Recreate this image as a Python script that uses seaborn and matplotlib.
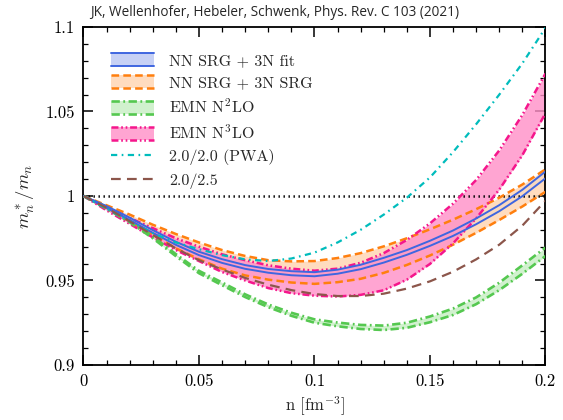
import numpy as np
import pandas as pd
import matplotlib
matplotlib.use("Agg")
import matplotlib.pyplot as plt
import seaborn as sns
from matplotlib.patches import Rectangle, Patch
from matplotlib.lines import Line2D
from matplotlib.legend_handler import HandlerBase
from matplotlib.ticker import MultipleLocator, FixedLocator

# ---------------- data ----------------
n = [0.0, 0.01, 0.02, 0.03, 0.04, 0.05, 0.06, 0.07, 0.08, 0.09, 0.10,
     0.11, 0.12, 0.13, 0.14, 0.15, 0.16, 0.17, 0.18, 0.19, 0.20]

fit_hi = [1.0, 0.994, 0.9872, 0.9798, 0.9729, 0.967, 0.9626, 0.9591, 0.9568, 0.9555, 0.9549,
          0.9564, 0.9593, 0.9634, 0.968, 0.9735, 0.9796, 0.9867, 0.9946, 1.0037, 1.0145]
fit_lo = [1.0, 0.993, 0.9858, 0.9782, 0.9711, 0.965, 0.9604, 0.9569, 0.9546, 0.9531, 0.9525,
          0.954, 0.9567, 0.9606, 0.9652, 0.9705, 0.9764, 0.9833, 0.991, 0.9999, 1.0105]

srg_hi = [1.0, 0.9945, 0.989, 0.983, 0.9775, 0.9725, 0.968, 0.9645, 0.962, 0.9613, 0.9615,
          0.9633, 0.9662, 0.9702, 0.975, 0.9803, 0.986, 0.9922, 0.999, 1.0068, 1.0158]
srg_lo = [1.0, 0.993, 0.985, 0.977, 0.969, 0.9625, 0.957, 0.953, 0.9505, 0.9488, 0.948,
          0.949, 0.951, 0.9545, 0.9592, 0.9648, 0.9712, 0.9782, 0.9858, 0.9938, 1.0025]

n2lo_hi = [1.0, 0.9935, 0.9855, 0.976, 0.9656, 0.9557, 0.9488, 0.9418, 0.9358, 0.9309, 0.927,
           0.9251, 0.9237, 0.9233, 0.925, 0.9287, 0.9334, 0.94, 0.9487, 0.959, 0.9695]
n2lo_lo = [1.0, 0.9925, 0.9845, 0.975, 0.9644, 0.9543, 0.9472, 0.9402, 0.9342, 0.9291, 0.925,
           0.9229, 0.9213, 0.9207, 0.922, 0.9253, 0.9296, 0.936, 0.9443, 0.954, 0.9645]

n3lo_hi = [1.0, 0.9935, 0.987, 0.981, 0.975, 0.970, 0.9655, 0.962, 0.959, 0.957, 0.9558,
           0.957, 0.9605, 0.9662, 0.974, 0.9838, 0.9955, 1.0095, 1.027, 1.048, 1.0725]
n3lo_lo = [1.0, 0.9915, 0.9835, 0.9755, 0.968, 0.9615, 0.955, 0.950, 0.9455, 0.9425, 0.941,
           0.9405, 0.9415, 0.9442, 0.9505, 0.9598, 0.972, 0.9868, 1.0038, 1.0242, 1.049]

pwa_20_20 = [1.0, 0.9925, 0.985, 0.978, 0.9725, 0.9685, 0.965, 0.9625, 0.9615, 0.963, 0.9665,
             0.9725, 0.980, 0.989, 0.999, 1.011, 1.026, 1.0425, 1.060, 1.0785, 1.0995]
ll_20_25 = [1.0, 0.993, 0.985, 0.977, 0.969, 0.962, 0.9565, 0.9515, 0.9475, 0.9443, 0.942,
            0.9408, 0.9408, 0.9422, 0.9452, 0.9495, 0.9552, 0.9625, 0.9712, 0.9825, 0.9972]

labels = ["NN SRG + 3N fit", "NN SRG + 3N SRG", r"EMN N$^2$LO", r"EMN N$^3$LO",
          "2.0/2.0 (PWA)", "2.0/2.5"]
xticks = [0, 0.05, 0.1, 0.15, 0.2]
xticklabels = ["0", "0.05", "0.1", "0.15", "0.2"]
yticks = [0.9, 0.95, 1.0, 1.05, 1.1]
yticklabels = ["0.9", "0.95", "1", "1.05", "1.1"]
title = "JK, Wellenhofer, Hebeler, Schwenk, Phys. Rev. C 103 (2021)"

# ---------------- style ----------------
sns.set_style("ticks")
plt.rcParams.update({
    "font.family": "serif",
    "font.serif": ["cmr10"],
    "mathtext.fontset": "cm",
    "axes.unicode_minus": False,
    "axes.formatter.use_mathtext": True,
    "lines.scale_dashes": False,
})

C_BLUE = "#3f66e0"
C_ORANGE = "#ff7f0e"
C_GREEN = "#55c850"
C_PINK = "#f5168c"
C_CYAN = "#00bcbc"
C_BROWN = "#8c564b"

F_BLUE = (0.78, 0.82, 0.96)
F_ORANGE = (1.0, 0.85, 0.72)
F_GREEN = (0.80, 0.94, 0.79)
F_PINK = (1.0, 0.56, 0.78)

bands = [
    (fit_lo, fit_hi, C_BLUE, F_BLUE, 1.0, "-", 1.4),
    (srg_lo, srg_hi, C_ORANGE, F_ORANGE, 0.9, (0, (5.5, 3)), 1.8),
    (n2lo_lo, n2lo_hi, C_GREEN, F_GREEN, 0.9, (0, (6, 2.5, 1.3, 2.5)), 1.9),
    (n3lo_lo, n3lo_hi, C_PINK, F_PINK, 0.8, (0, (5, 2, 1.2, 2, 1.2, 2)), 1.8),
]

fig = plt.figure(figsize=(5.63, 4.2), dpi=100)
ax = fig.add_axes([0.1483, 0.131, 0.8206, 0.8047])

# fills first (orange, pink, green, blue)
for idx in [1, 3, 2, 0]:
    lo, hi, c, f, a, ls, lw = bands[idx]
    ax.fill_between(n, lo, hi, color=f, alpha=a, lw=0, zorder=1 + idx * 0.1)

# band edges
order = [1, 3, 2, 0]
for k, idx in enumerate(order):
    lo, hi, c, f, a, ls, lw = bands[idx]
    for arr in (lo, hi):
        df = pd.DataFrame({"n": n, "m": arr})
        sns.lineplot(data=df, x="n", y="m", ax=ax, color=c, linewidth=lw,
                     linestyle=ls, zorder=3 + k * 0.1, legend=False)

df = pd.DataFrame({"n": n, "m": pwa_20_20})
sns.lineplot(data=df, x="n", y="m", ax=ax, color=C_CYAN, linewidth=1.6,
             linestyle=(0, (4.5, 3.2, 1.2, 3.2)), zorder=4, legend=False)
df = pd.DataFrame({"n": n, "m": ll_20_25})
sns.lineplot(data=df, x="n", y="m", ax=ax, color=C_BROWN, linewidth=1.6,
             linestyle=(0, (7, 4.5)), zorder=4, legend=False)

ax.axhline(1.0, color="black", lw=1.8, linestyle=(0, (1, 2.6)), zorder=2)

ax.set_xlim(0, 0.2)
ax.set_ylim(0.9, 1.1)
ax.xaxis.set_major_locator(FixedLocator(xticks))
ax.set_xticklabels(xticklabels)
ax.yaxis.set_major_locator(FixedLocator(yticks))
ax.set_yticklabels(yticklabels)
ax.xaxis.set_minor_locator(MultipleLocator(0.01))
ax.yaxis.set_minor_locator(MultipleLocator(0.01))
ax.tick_params(which="both", direction="in", top=True, right=True, colors="black",
               labelsize=12)
ax.tick_params(which="major", length=7, width=1.1)
ax.tick_params(which="minor", length=3.5, width=0.9)
ax.tick_params(axis="x", pad=6)
ax.tick_params(axis="y", pad=6)
for s in ax.spines.values():
    s.set_linewidth(1.3)
    s.set_color("black")

ax.set_xlabel(r"n [fm$^{-3}$]", fontsize=12, labelpad=4)
ax.set_ylabel(r"$m_n^*/m_n$", fontsize=13.5, labelpad=6)

fig.text(0.16, 0.971, title, family="Open Sans", fontsize=9.8, va="center", ha="left")


# ---------------- legend ----------------
class BandHandler(HandlerBase):
    def __init__(self, edge, fill, alpha, ls, lw):
        super().__init__()
        self.edge, self.fill, self.alpha, self.ls, self.lw = edge, fill, alpha, ls, lw

    def create_artists(self, legend, orig_handle, xdescent, ydescent, width, height,
                       fontsize, trans):
        x0, y0 = -xdescent, -ydescent
        r = Rectangle((x0, y0), width, height, facecolor=self.fill, alpha=self.alpha,
                      edgecolor="none", transform=trans)
        l1 = Line2D([x0, x0 + width], [y0 + height] * 2, color=self.edge,
                    linestyle=self.ls, lw=self.lw, transform=trans)
        l2 = Line2D([x0, x0 + width], [y0] * 2, color=self.edge,
                    linestyle=self.ls, lw=self.lw, transform=trans)
        return [r, l1, l2]


handles = []
hmap = {}
for idx in range(4):
    lo, hi, c, f, a, ls, lw = bands[idx]
    p = Patch()
    handles.append(p)
    hmap[p] = BandHandler(c, f, a, ls, lw)
handles.append(Line2D([], [], color=C_CYAN, lw=1.6, linestyle=(0, (4.5, 3.2, 1.2, 3.2))))
handles.append(Line2D([], [], color=C_BROWN, lw=1.6, linestyle=(0, (7, 4.5))))

leg = ax.legend(handles, labels, handler_map=hmap, loc="upper left",
                bbox_to_anchor=(0.045, 0.943), frameon=False, fontsize=11.5,
                handlelength=2.7, handleheight=0.9, labelspacing=0.46,
                handletextpad=0.95, borderaxespad=0.0)

fig.savefig("out.png", dpi=100)
